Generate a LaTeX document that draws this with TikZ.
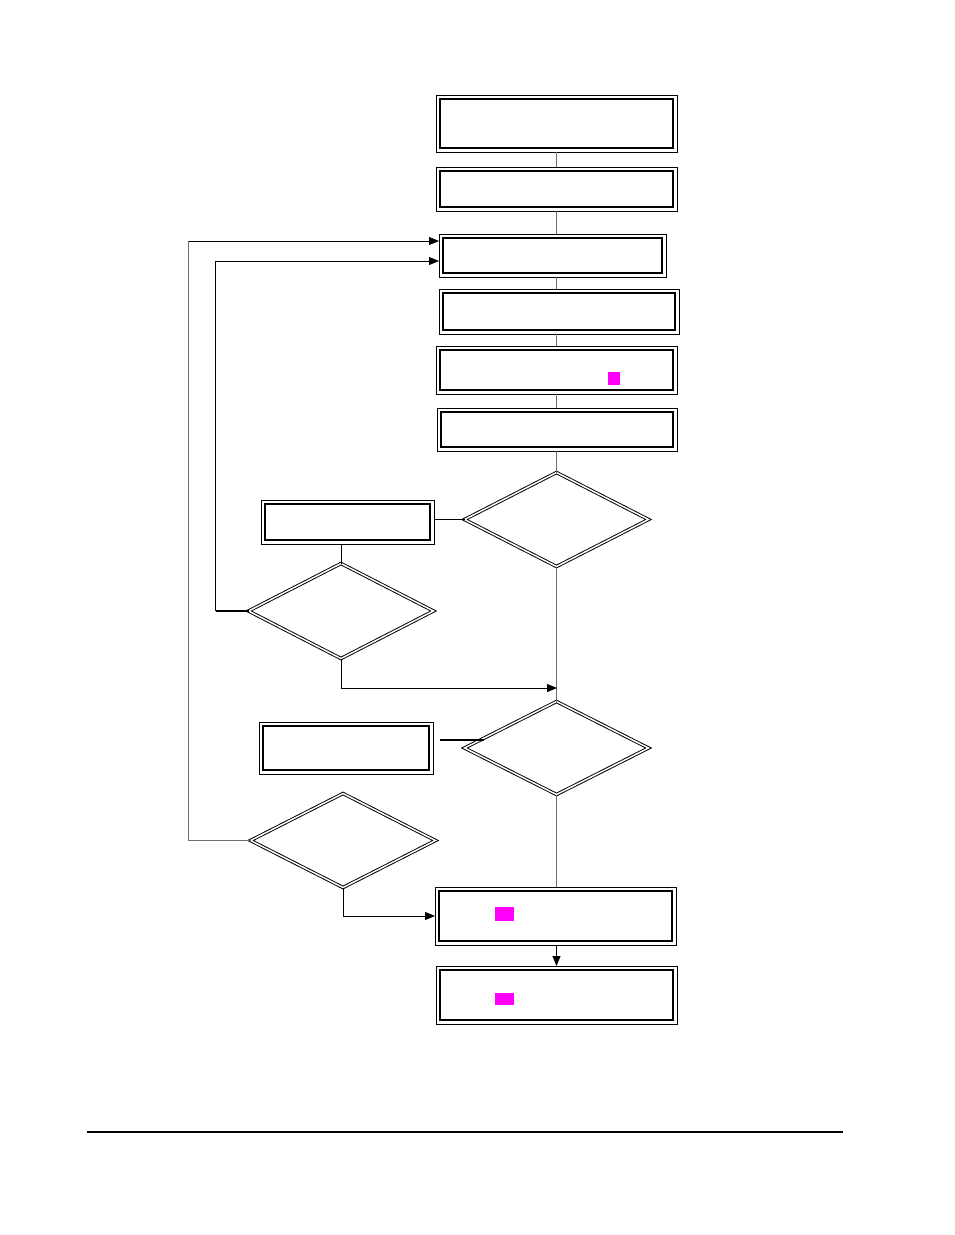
\documentclass[tikz,border=0pt]{standalone}
\usetikzlibrary{shapes.geometric,arrows.meta}
\definecolor{conn}{RGB}{110,110,110}
\definecolor{mag}{RGB}{255,0,255}
\tikzset{
  dbox/.style={rectangle, draw, line width=1pt, inner sep=0pt, outer sep=0pt,
    path picture={\draw[line width=2.2pt]
      ([shift={(3.8pt,-3.8pt)}]path picture bounding box.north west) rectangle
      ([shift={(-3.8pt,3.8pt)}]path picture bounding box.south east);}},
  ddia/.style={diamond, draw, double, double distance=1.5pt, line width=0.95pt,
    inner sep=0pt, outer sep=0pt},
  magbox/.style={rectangle, fill=mag, draw=none, inner sep=0pt},
  vline/.style={draw=conn, line width=1.4pt},
  fline/.style={draw=black, line width=0.9pt},
  gline/.style={draw=conn, line width=1.2pt},
  arr/.style={draw=black, line width=0.9pt, -{Triangle[length=10pt,width=8pt]}},
}
\begin{document}
\begin{tikzpicture}[x=1pt,y=-1pt]
\useasboundingbox (0,0) rectangle (954,1235);
% boxes
\node[dbox, minimum width=241pt, minimum height=57pt] (b1) at (556.5,123.5) {};
\node[dbox, minimum width=241pt, minimum height=44pt] (b2) at (556.5,189) {};
\node[dbox, minimum width=227pt, minimum height=43pt] (b3) at (552.5,255.5) {};
\node[dbox, minimum width=240pt, minimum height=45pt] (b4) at (559,311.5) {};
\node[dbox, minimum width=241pt, minimum height=48pt] (b5) at (556.5,370) {};
\node[dbox, minimum width=240pt, minimum height=43pt] (b6) at (557,429.5) {};
\node[ddia, minimum width=184pt, minimum height=94pt] (d1) at (556.5,519.5) {};
\node[dbox, minimum width=173pt, minimum height=44pt] (b7) at (347.5,522) {};
\node[ddia, minimum width=185pt, minimum height=95pt] (d2) at (341,611) {};
\node[ddia, minimum width=184pt, minimum height=93pt] (d3) at (556.5,748) {};
\node[dbox, minimum width=174pt, minimum height=52pt] (b8) at (346,748) {};
\node[ddia, minimum width=185pt, minimum height=94pt] (d4) at (343,840.5) {};
\node[dbox, minimum width=241pt, minimum height=58pt] (b9) at (555.5,916) {};
\node[dbox, minimum width=241pt, minimum height=58pt] (b10) at (556.5,995) {};
% magenta marks
\node[magbox, minimum width=12pt, minimum height=13pt] (m1) at (614,378.5) {};
\node[magbox, minimum width=19pt, minimum height=14pt] (m2) at (504.5,914) {};
\node[magbox, minimum width=19pt, minimum height=12pt] (m3) at (504.5,999) {};
% junction on main line
\coordinate (j1) at (557,688);
% main vertical connectors
\draw[vline] (b1.south) -- (b2.north);
\draw[vline] (b2.south) -- (b2.south |- b3.north);
\draw[vline] (b1.south |- b3.south) -- (b1.south |- b4.north);
\draw[vline] (b1.south |- b4.south) -- (b1.south |- b5.north);
\draw[vline] (b5.south) -- (b5.south |- b6.north);
\draw[vline] (b5.south |- b6.south) -- (d1.north);
\draw[vline] (d1.south) -- (d3.north);
\draw[vline] (d3.south) -- (d3.south |- b9.north);
\draw[arr] (d3.south |- b9.south) -- (d3.south |- b10.north);
% side connectors
\draw[fline] (d1.west) -- (d1.west -| b7.east);
\draw[fline] (d2.north) -- (d2.north |- b7.south);
\draw[line width=1.8pt] ([shift={(7pt,8pt)}]b8.east) -- ([shift={(19pt,8pt)}]d3.west);
\draw[arr] (d2.south) |- (j1);
\draw[arr] (d4.south) |- (b9.west);
% loops back to b3
\draw[line width=1.8pt] (d2.west) -- ++(-33,0) coordinate (l1);
\draw[arr] (l1) |- ([yshift=-5.5pt]b3.west);
\draw[gline] (d4.west) -- ++(-62,0) coordinate (l2);
\draw[gline] (l2) -- ([yshift=14.5pt]l2 |- b3.west) coordinate (l3);
\draw[arr] (l3) -- ([yshift=14.5pt]b3.west);
% bottom rule
\draw[line width=2pt] (87,1132) -- (843,1132);
\end{tikzpicture}
\end{document}
